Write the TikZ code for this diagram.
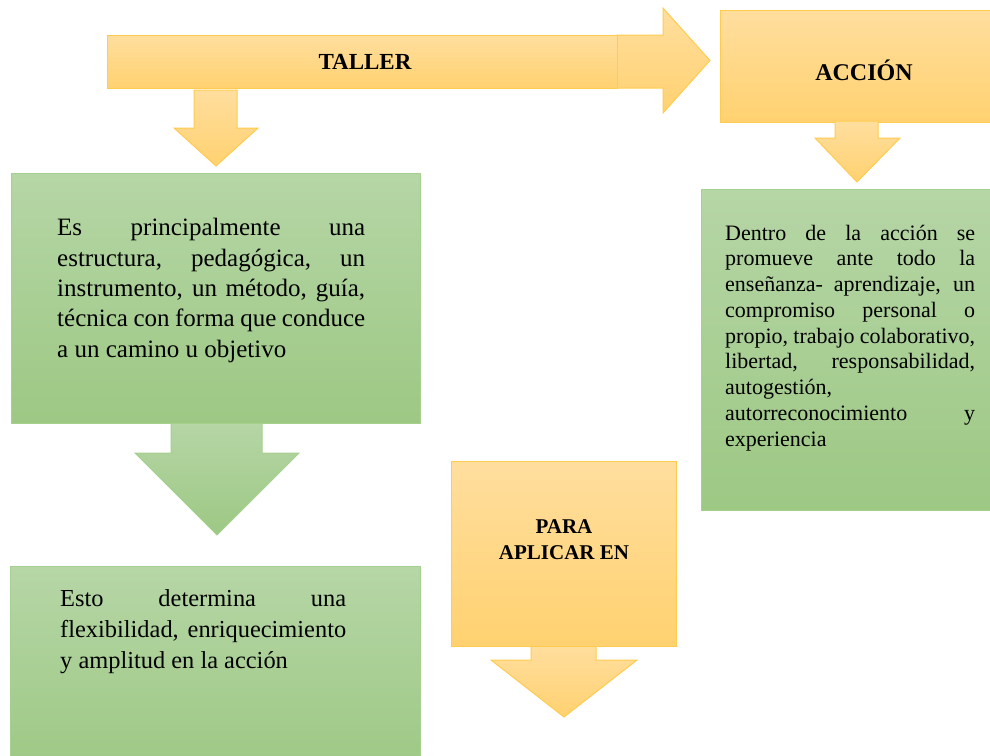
\documentclass[tikz,border=0pt]{standalone}
\usepackage{fontspec}
\setmainfont{Liberation Serif}
\definecolor{ortop}{RGB}{255,222,158}
\definecolor{orbot}{RGB}{255,209,112}
\definecolor{orline}{RGB}{255,204,80}
\definecolor{gtop}{RGB}{182,214,166}
\definecolor{gbot}{RGB}{157,200,132}
\definecolor{gline}{RGB}{166,208,142}
\tikzset{
  obox/.style={draw=orline, line width=1pt, top color=ortop, bottom color=orbot, inner sep=0pt, outer sep=0pt},
  gbox/.style={draw=gline, line width=1pt, top color=gtop, bottom color=gbot, inner sep=0pt, outer sep=0pt},
  btxt/.style={font=\bfseries\fontsize{23}{26}\selectfont, align=center, inner sep=0pt},
  gtxt/.style={align=left, inner sep=0pt, anchor=base west}
}
\begin{document}
\begin{tikzpicture}[x=1pt,y=-1pt]
\useasboundingbox (0,0) rectangle (990,755);
\clip (0,0) rectangle (990,755);

% ---- TALLER bar with arrow head
\path[obox] (617,35) -- (663,35) -- (663,8) -- (710,60.5) -- (663,113) -- (663,88) -- (617,88) -- cycle;
\node[obox, anchor=north west, minimum width=510pt, minimum height=53pt] (taller) at (107,35) {};
\node[btxt] (tallertxt) at (365,62) {TALLER};

% down arrow below TALLER
\path[obox] (194,90) -- (237,90) -- (237,128) -- (258,128) -- (216,166) -- (174,128) -- (194,128) -- cycle;

% ---- ACCION box
\node[obox, anchor=north west, minimum width=290pt, minimum height=112pt] (accion) at (720,10) {};
\node[btxt, font=\bfseries\fontsize{24}{26}\selectfont] (acciontxt) at (864,70) {ACCIÓN};
\path[obox] (835,121) -- (878,121) -- (878,138) -- (900,138) -- (857,182) -- (815,138) -- (835,138) -- cycle;

% ---- right green box (text anchored at baseline of its last line)
\node[gbox, anchor=north west, minimum width=300pt, minimum height=321pt] (dentro) at (701,189) {};
\node[gtxt, font=\fontsize{22}{25.75}\selectfont] (dentrotxt) at (725,446) {%
\makebox[250pt][s]{Dentro de la acción se}\\
\makebox[250pt][s]{promueve ante todo la}\\
\makebox[250pt][s]{enseñanza- aprendizaje, un}\\
\makebox[250pt][s]{compromiso personal o}\\
\makebox[250pt][s]{propio, trabajo colaborativo,}\\
\makebox[250pt][s]{libertad, responsabilidad,}\\
autogestión,\\
\makebox[250pt][s]{autorreconocimiento y}\\
experiencia};

% ---- left green box 1
\path[gbox] (171,421) -- (262,421) -- (262,453) -- (299,453) -- (217,535) -- (135,453) -- (171,453) -- cycle;
\node[gbox, anchor=north west, minimum width=409pt, minimum height=250pt] (es) at (11,173) {};
\node[gtxt, font=\fontsize{25}{30.3}\selectfont] (estxt) at (57,357) {%
\makebox[308pt][s]{Es principalmente una}\\
\makebox[308pt][s]{estructura, pedagógica, un}\\
\makebox[308pt][s]{instrumento, un método, guía,}\\
\makebox[308pt][s]{técnica con forma que conduce}\\
a un camino u objetivo};

% ---- left green box 2
\node[gbox, anchor=north west, minimum width=410pt, minimum height=210pt] (esto) at (10,566) {};
\node[gtxt, font=\fontsize{24.4}{31}\selectfont] (estotxt) at (60,668) {%
\makebox[286pt][s]{Esto determina una}\\
\makebox[286pt][s]{flexibilidad, enriquecimiento}\\
y amplitud en la acción};

% ---- PARA APLICAR EN
\path[obox] (531,645) -- (596,645) -- (596,660) -- (637,660) -- (564,717) -- (491,660) -- (531,660) -- cycle;
\node[obox, anchor=north west, minimum width=225pt, minimum height=185pt] (para) at (451,461) {};
\node[btxt, font=\bfseries\fontsize{21}{26}\selectfont] (paratxt) at (564,540) {PARA\\APLICAR EN};
\end{tikzpicture}
\end{document}
